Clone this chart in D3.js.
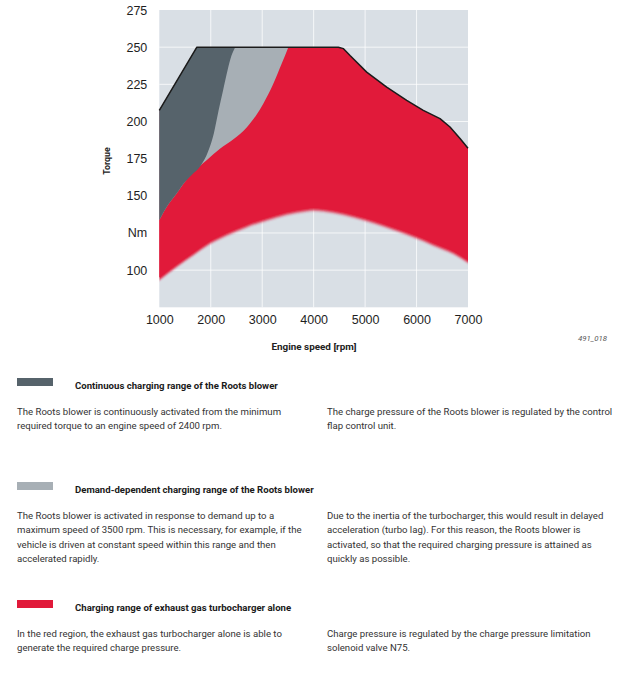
<!DOCTYPE html>
<html><head><meta charset="utf-8">
<script src="https://cdn.jsdelivr.net/npm/d3@7"></script>
<style>
html,body{margin:0;padding:0;background:#fff;}
svg{display:block;}
</style></head>
<body>
<svg id="c" width="623" height="691"></svg>
<script>
// ---- data ----
const xTicks = [1000, 2000, 3000, 4000, 5000, 6000, 7000];
const yTicks = [100, 125, 150, 175, 200, 225, 250, 275];
const yTickLabels = ["100", "Nm", "150", "175", "200", "225", "250", "275"];

// full-load torque curve (outer boundary)
const topRpm = [1000, 1730, 4480, 4580, 4707, 5031, 5420, 5809, 6131, 6456, 6650, 6845, 7000];
const topNm  = [207.5, 250, 250, 249, 244.4, 233.2, 223.1, 214.2, 207.5, 201.9, 196.3, 188.5, 182];

// lower edge of red range
const botRpm = [1000, 1337, 1661, 1985, 2309, 2698, 3086, 3475, 3864, 3993, 4382, 4771, 5160, 5548, 5937, 6326, 6714, 7000];
const botNm  = [93.3, 102.2, 110.1, 117.9, 123.5, 129.1, 133.6, 137.4, 139.8, 140.3, 138.7, 135.8, 131.8, 127.3, 122.4, 116.8, 111.2, 105.1];

// upper edge of red at low rpm (below dark grey)
const redLeftRpm = [1000, 1143, 1337, 1466];
const redLeftNm  = [133.6, 142.5, 151.5, 158];

// boundary light grey / red
const lightRpm = [1661, 1920, 2179, 2440, 2698, 2880, 3021, 3216, 3378, 3508];
const lightNm  = [166, 174, 181.7, 188, 196, 204, 212, 225.4, 238.8, 250];

// boundary dark grey / light grey
const darkRpm = [1630, 1800, 1950, 2060, 2150, 2240, 2330, 2400, 2475];
const darkNm  = [164, 170, 180, 192, 207, 221, 235, 244, 250];

const legendTitles = [
  "Continuous charging range of the Roots blower",
  "Demand-dependent charging range of the Roots blower",
  "Charging range of exhaust gas turbocharger alone"
];
const legendLeft = [
  ["The Roots blower is continuously activated from the minimum", "required torque to an engine speed of 2400 rpm."],
  ["The Roots blower is activated in response to demand up to a", "maximum speed of 3500 rpm. This is necessary, for example, if the", "vehicle is driven at constant speed within this range and then", "accelerated rapidly."],
  ["In the red region, the exhaust gas turbocharger alone is able to", "generate the required charge pressure."]
];
const legendRight = [
  ["The charge pressure of the Roots blower is regulated by the control", "flap control unit."],
  ["Due to the inertia of the turbocharger, this would result in delayed", "acceleration (turbo lag). For this reason, the Roots blower is", "activated, so that the required charging pressure is attained as", "quickly as possible."],
  ["Charge pressure is regulated by the charge pressure limitation", "solenoid valve N75."]
];

// ---- styles ----
const C_BG = "#d9dfe5", C_DARK = "#56636b", C_LIGHT = "#a7afb5", C_RED = "#e11a3a";
const legendColors = [C_DARK, C_LIGHT, C_RED];

const svg = d3.select("#c");
const x = d3.scaleLinear().domain([1000, 7000]).range([159.3, 468]);
const y = d3.scaleLinear().domain([75, 275]).range([307.3, 10]);

const zip = (a, b) => a.map((v, i) => [v, b[i]]);
const topPts = zip(topRpm, topNm);
const botPts = zip(botRpm, botNm);
const redLeftPts = zip(redLeftRpm, redLeftNm);
const lightPts = redLeftPts.concat(zip(lightRpm, lightNm));
const darkPts = redLeftPts.concat(zip(darkRpm, darkNm));

const lin = d3.line().x(d => x(d[0])).y(d => y(d[1]));
const smooth = d3.line().x(d => x(d[0])).y(d => y(d[1])).curve(d3.curveMonotoneX);
const smoothUp = d3.line().x(d => x(d[0])).y(d => y(d[1]) - 2.5).curve(d3.curveMonotoneX);

const defs = svg.append("defs");
defs.append("filter").attr("id", "blurY")
  .attr("x", "-5%").attr("y", "-10%").attr("width", "110%").attr("height", "120%")
  .append("feGaussianBlur").attr("stdDeviation", "0 1.6");
defs.append("clipPath").attr("id", "underTop").append("path")
  .attr("d", lin(topPts) + "L" + x(7000) + "," + y(75) + "L" + x(1000) + "," + y(75) + "Z");

// background
svg.append("rect").attr("x", x(1000)).attr("y", y(275))
  .attr("width", x(7000) - x(1000)).attr("height", y(75) - y(275)).attr("fill", C_BG);

// grid
const g = svg.append("g").attr("stroke", "#fff").attr("stroke-opacity", 0.75).attr("stroke-width", 1);
g.selectAll("line.v").data(xTicks.slice(1, -1)).join("line")
  .attr("x1", d => x(d)).attr("x2", d => x(d)).attr("y1", y(275)).attr("y2", y(75));
g.selectAll("line.h").data(yTicks.slice(0, -1)).join("line")
  .attr("y1", d => y(d)).attr("y2", d => y(d)).attr("x1", x(1000)).attr("x2", x(7000));

// red area: soft lower edge + sharp copy
const topRev = topPts.slice().reverse();
const redPath = smooth(botPts) + lin(topRev).replace(/^M/, "L") + "Z";
const redPathSharp = smoothUp(botPts) + lin(topRev).replace(/^M/, "L") + "Z";
svg.append("g").attr("clip-path", "url(#underTop)")
  .append("path").attr("d", redPath).attr("fill", C_RED).attr("filter", "url(#blurY)");
svg.append("path").attr("d", redPathSharp).attr("fill", C_RED);

// light grey
const endL = lightPts[lightPts.length - 1][0];
const lightPath = smooth(lightPts) + lin(topPts.filter(d => d[0] < endL).reverse()).replace(/^M/, "L") + "Z";
svg.append("path").attr("d", lightPath).attr("fill", C_LIGHT);

// dark grey
const endD = darkPts[darkPts.length - 1][0];
const darkPath = smooth(darkPts) + lin(topPts.filter(d => d[0] < endD).reverse()).replace(/^M/, "L") + "Z";
svg.append("path").attr("d", darkPath).attr("fill", C_DARK);

// outline
svg.append("path").attr("d", lin(topPts)).attr("fill", "none")
  .attr("stroke", "#1b1b1b").attr("stroke-width", 1.5).attr("stroke-linejoin", "round");

// axes
const tickFont = "'Liberation Sans', Arial, sans-serif";
const ax = svg.append("g").attr("transform", `translate(0,${y(75)})`)
  .call(d3.axisBottom(x).tickValues(xTicks).tickSize(0).tickPadding(8).tickFormat(d3.format("d")));
const ay = svg.append("g").attr("transform", `translate(${x(1000)},0)`)
  .call(d3.axisLeft(y).tickValues(yTicks).tickSize(0).tickPadding(12).tickFormat((d, i) => yTickLabels[i]));
[ax, ay].forEach(a => {
  a.select(".domain").remove();
  a.selectAll("text").attr("font-family", tickFont).attr("font-size", 12.5).attr("fill", "#1e1e1e");
});

const uiFont = "Roboto, 'Open Sans', sans-serif";
svg.append("text").attr("x", 314).attr("y", 350).attr("text-anchor", "middle")
  .attr("font-family", uiFont).attr("font-weight", 700).attr("font-size", 9.9).attr("fill", "#222")
  .text("Engine speed [rpm]");
svg.append("text").attr("transform", "translate(109.5,161) rotate(-90)").attr("text-anchor", "middle")
  .attr("font-family", uiFont).attr("font-weight", 700).attr("font-size", 8.8).attr("fill", "#222")
  .text("Torque");
svg.append("text").attr("x", 607).attr("y", 341).attr("text-anchor", "end")
  .attr("font-family", uiFont).attr("font-style", "italic").attr("font-size", 7.8).attr("fill", "#555")
  .text("491_018");

// legend blocks
const blockY = [378, 482, 600];
blockY.forEach((by, i) => {
  svg.append("rect").attr("x", 17).attr("y", by).attr("width", 36).attr("height", 8).attr("fill", legendColors[i]);
  svg.append("text").attr("x", 75).attr("y", by + 10.5)
    .attr("font-family", uiFont).attr("font-weight", 700).attr("font-size", 9.6).attr("fill", "#1a1a1a")
    .text(legendTitles[i]);
  [[17, legendLeft[i]], [327, legendRight[i]]].forEach(([tx, lines]) => {
    const t = svg.append("text").attr("font-family", uiFont).attr("font-size", 9.6).attr("fill", "#333");
    lines.forEach((ln, k) => t.append("tspan").attr("x", tx).attr("y", by + 36.5 + k * 14.5).text(ln));
  });
});
</script>
</body></html>
